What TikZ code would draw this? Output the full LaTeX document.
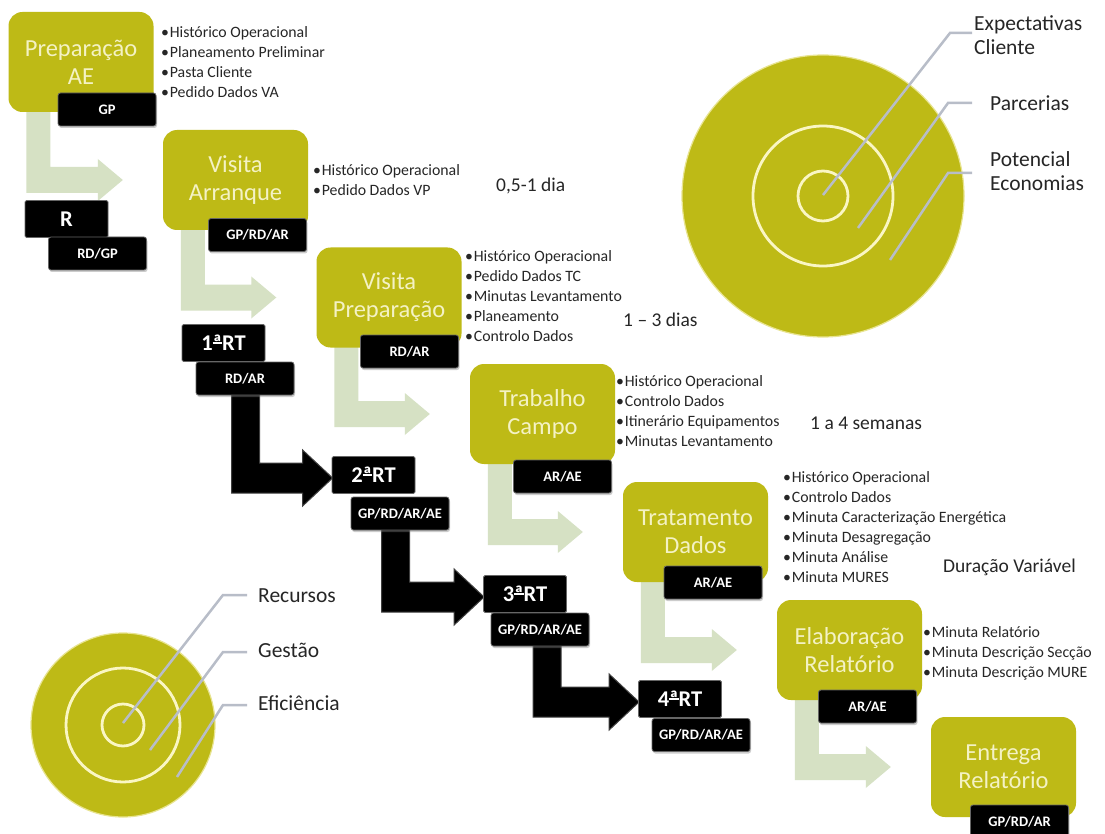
\documentclass[tikz,border=0pt]{standalone}
\usepackage{fontspec}
\setmainfont{Carlito}
\usetikzlibrary{calc,shadows}

\definecolor{stagegreen}{RGB}{190,186,22}
\definecolor{stagetext}{RGB}{244,242,196}
\definecolor{flowgreen}{RGB}{214,225,196}
\definecolor{ringcol}{RGB}{250,246,196}
\definecolor{leadgray}{RGB}{184,189,200}
\definecolor{bodytext}{RGB}{38,38,38}

\pgfdeclarelayer{back}
\pgfdeclarelayer{flows}
\pgfsetlayers{back,flows,main}

\newcommand\bul{•\kern0.8pt}
% underlined ordinal indicator
\newcommand\ordfem{\setbox0\hbox{ª}\rlap{ª}\raisebox{0.3em}{\rule{\wd0}{0.07em}}}

% light L-shaped flow arrow: from the bottom of one stage to the left of the next
\newcommand\stageflow[2]{%
  \path[flow] let \p1=(#1.south west), \p2=(#2.west) in
    (\x1+18pt,\y1+2pt) -- (\x1+42pt,\y1+2pt) -- (\x1+42pt,\y2+13pt)
    -- (\x2-65pt,\y2+13pt) -- (\x2-65pt,\y2+21pt) -- (\x2-40pt,\y2)
    -- (\x2-65pt,\y2-21pt) -- (\x2-65pt,\y2-13pt) -- (\x1+18pt,\y2-13pt) -- cycle;}

% black L-shaped arrow between review meetings
\newcommand\reviewflow[3]{%
  \path[rtflow] let \p1=(#1.west), \p2=(#2.center), \p3=(#3.west) in
    (\x1+50pt,\y2) -- (\x1+78pt,\y2) -- (\x1+78pt,\y3+12pt)
    -- (\x3-29pt,\y3+12pt) -- (\x3-29pt,\y3+25pt) -- (\x3+1pt,\y3-3pt)
    -- (\x3-29pt,\y3-31pt) -- (\x3-29pt,\y3-18pt) -- (\x1+50pt,\y3-18pt) -- cycle;}

\begin{document}
\begin{tikzpicture}[x=1pt,y=-1pt,
  stage/.style={fill=stagegreen, rounded corners=14pt, minimum width=145pt,
    minimum height=100pt, text=stagetext, align=center, inner sep=0pt,
    font=\fontsize{24.5}{28}\selectfont},
  tagbox/.style={fill=black, draw=black!60, line width=0.8pt, rounded corners=2.5pt,
    minimum width=98pt, minimum height=33pt, text=white, inner sep=0pt,
    font=\bfseries\fontsize{14.5}{16}\selectfont,
    drop shadow={shadow xshift=1pt, shadow yshift=-2pt, opacity=0.4}},
  rtbox/.style={fill=black, draw=black!60, line width=0.8pt, rounded corners=1.5pt,
    minimum width=83pt, minimum height=37pt, text=white, inner sep=0pt,
    font=\bfseries\fontsize{22.5}{24}\selectfont},
  notes/.style={anchor=west, align=left, inner sep=0pt, text=bodytext,
    font=\fontsize{15.8}{20}\selectfont},
  duration/.style={anchor=west, inner sep=0pt, text=bodytext,
    font=\fontsize{19.5}{22}\selectfont},
  circlabel/.style={anchor=west, align=left, inner sep=0pt, text=bodytext,
    font=\fontsize{21.5}{24.5}\selectfont},
  ring/.style={draw=ringcol, line width=2.8pt},
  target/.style={fill=stagegreen, draw=ringcol!70!stagegreen, line width=1.2pt},
  leader/.style={draw=leadgray, line width=2.5pt},
  flow/.style={fill=flowgreen},
  rtflow/.style={fill=black, draw=black!75, line width=1pt}]

\begin{pgfonlayer}{back}
\fill[white] (0,0) rectangle (1105,834);
\end{pgfonlayer}
\useasboundingbox (0,0) rectangle (1105,834);

% ---------- target circles ----------
\coordinate (bigc) at (823,196);
\fill[target] (bigc) circle (141);
\draw[ring] (bigc) circle (70);
\draw[ring] (bigc) circle (25);

\coordinate (smallc) at (123,725);
\fill[target] (smallc) circle (92);
\draw[ring] (smallc) circle (57);
\draw[ring] (smallc) circle (21);

% ---------- circle labels and leaders ----------
\node[circlabel] (expect) at (974,35) {Expectativas\\Cliente};
\node[circlabel] (parc)   at (990,103) {Parcerias};
\node[circlabel] (pot)    at (990,171) {Potencial\\Economias};

\coordinate (e1) at (823,195); \coordinate (e2) at (950,33);  \coordinate (e3) at (972,33);
\coordinate (p1) at (858,228); \coordinate (p2) at (948,103); \coordinate (p3) at (972,103);
\coordinate (q1) at (890,260); \coordinate (q2) at (948,173); \coordinate (q3) at (972,173);
\draw[leader] (e1) -- (e2) -- (e3);
\draw[leader] (p1) -- (p2) -- (p3);
\draw[leader] (q1) -- (q2) -- (q3);

\node[circlabel] (recur) at (258,596) {Recursos};
\node[circlabel] (gest)  at (258,650) {Gestão};
\node[circlabel] (efic)  at (258,703) {Eficiência};

\coordinate (r1) at (123,723); \coordinate (r2) at (223,595); \coordinate (r3) at (247,595);
\coordinate (g1) at (150,750); \coordinate (g2) at (223,652); \coordinate (g3) at (247,652);
\coordinate (f1) at (177,777); \coordinate (f2) at (223,705); \coordinate (f3) at (247,705);
\draw[leader] (r1) -- (r2) -- (r3);
\draw[leader] (g1) -- (g2) -- (g3);
\draw[leader] (f1) -- (f2) -- (f3);

% ---------- stages ----------
\node[stage] (prep)  at (81,62)      {Preparação\\AE};
\node[stage] (arr)   at (235.5,180)  {Visita\\Arranque};
\node[stage] (vprep) at (389,297.5)  {Visita\\Preparação};
\node[stage] (campo) at (542.5,414)  {Trabalho\\Campo};
\node[stage] (trat)  at (695.5,532)  {Tratamento\\Dados};
\node[stage] (elab)  at (849.5,650)  {Elaboração\\Relatório};
\node[stage] (entr)  at (1003.5,767) {Entrega\\Relatório};

\node[tagbox] (tprep)  at (107,109.5)  {GP};
\node[tagbox] (tarr)   at (257.5,235)  {GP/RD/AR};
\node[tagbox] (tvprep) at (409.5,351.5){RD/AR};
\node[tagbox] (tcampo) at (562.5,476.5){AR/AE};
\node[tagbox] (ttrat)  at (713,582.5)  {AR/AE};
\node[tagbox] (telab)  at (867.5,706.5){AR/AE};
\node[tagbox] (tentr)  at (1019.5,821.5){GP/RD/AR};

% ---------- review meetings ----------
\node[rtbox] (rt0) at (66.5,219)  {R};
\node[rtbox] (rt1) at (223.5,343) {1\ordfem RT};
\node[rtbox] (rt2) at (373.5,475) {2\ordfem RT};
\node[rtbox] (rt3) at (525,594)   {3\ordfem RT};
\node[rtbox] (rt4) at (680,699)   {4\ordfem RT};

\node[tagbox] (trt0) at (97.5,253.5) {RD/GP};
\node[tagbox] (trt1) at (245,378.5)  {RD/AR};
\node[tagbox] (trt2) at (400,513.5)  {GP/RD/AR/AE};
\node[tagbox] (trt3) at (540,629.5)  {GP/RD/AR/AE};
\node[tagbox] (trt4) at (701,735)    {GP/RD/AR/AE};

% ---------- flow arrows (under the boxes) ----------
\begin{pgfonlayer}{flows}
\stageflow{prep}{arr}
\stageflow{arr}{vprep}
\stageflow{vprep}{campo}
\stageflow{campo}{trat}
\stageflow{trat}{elab}
\stageflow{elab}{entr}

\reviewflow{rt1}{trt1}{rt2}
\reviewflow{rt2}{trt2}{rt3}
\reviewflow{rt3}{trt3}{rt4}
\end{pgfonlayer}

% ---------- deliverables ----------
\node[notes] (nprep) at (161,62)
  {\bul Histórico Operacional\\\bul Planeamento Preliminar\\\bul Pasta Cliente\\\bul Pedido Dados VA};
\node[notes] (narr) at (313,180)
  {\bul Histórico Operacional\\\bul Pedido Dados VP};
\node[notes] (nvprep) at (465,296)
  {\bul Histórico Operacional\\\bul Pedido Dados TC\\\bul Minutas Levantamento\\\bul Planeamento\\\bul Controlo Dados};
\node[notes] (ncampo) at (616,411)
  {\bul Histórico Operacional\\\bul Controlo Dados\\\bul Itinerário Equipamentos\\\bul Minutas Levantamento};
\node[notes] (ntrat) at (783,527.5)
  {\bul Histórico Operacional\\\bul Controlo Dados\\\bul Minuta Caracterização Energética\\\bul Minuta Desagregação\\\bul Minuta Análise\\\bul Minuta MURES};
\node[notes] (nelab) at (923,653)
  {\bul Minuta Relatório\\\bul Minuta Descrição Secção\\\bul Minuta Descrição MURE};

% ---------- durations ----------
\node[duration] (d1) at (496,186) {0,5-1 dia};
\node[duration] (d2) at (623,320) {1 – 3 dias};
\node[duration] (d3) at (810,423) {1 a 4 semanas};
\node[duration] (d4) at (943,567) {Duração Variável};

\end{tikzpicture}
\end{document}
